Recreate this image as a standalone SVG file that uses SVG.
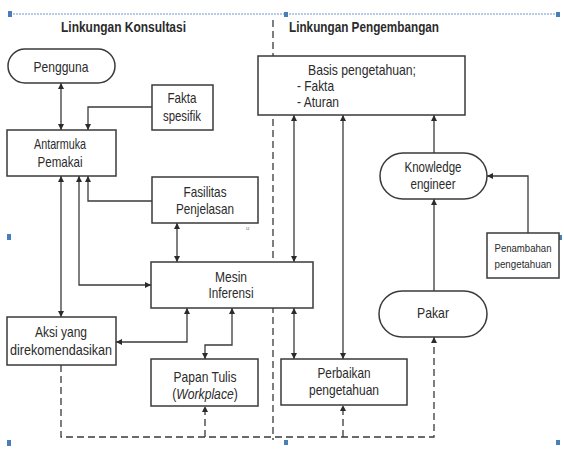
<svg xmlns="http://www.w3.org/2000/svg" width="564" height="449" viewBox="0 0 564 449">
  <style>
    .box { fill: #ffffff; stroke: #3a3a3a; stroke-width: 1.5; }
    .lbl { font-family: "Liberation Sans Narrow", "Liberation Sans", Arial, sans-serif; font-size: 14.5px; fill: #2b2b2b; text-anchor: middle; }
    .lbl-l { font-family: "Liberation Sans Narrow", "Liberation Sans", Arial, sans-serif; font-size: 14.5px; fill: #2b2b2b; }
    .small { font-family: "Liberation Sans Narrow", "Liberation Sans", Arial, sans-serif; font-size: 11px; fill: #2b2b2b; text-anchor: middle; }
    .title { font-family: "Liberation Sans Narrow", "Liberation Sans", Arial, sans-serif; font-size: 14.5px; font-weight: bold; fill: #2b2b2b; }
    .wire { fill: none; stroke: #3a3a3a; stroke-width: 1.3; }
    .dash { fill: none; stroke: #3a3a3a; stroke-width: 1.3; stroke-dasharray: 7 4; }
    .handle { fill: #4a7ebb; }
  </style>
  <defs>
    <marker id="arrow" viewBox="0 0 10 10" refX="10" refY="5" markerWidth="7" markerHeight="6" markerUnits="userSpaceOnUse" orient="auto-start-reverse">
      <path d="M0,0 L10,5 L0,10 z" fill="#2b2b2b"/>
    </marker>
  </defs>

  <rect width="564" height="449" fill="#ffffff"/>

  <!-- frame of the drawing area -->
  <g id="frame">
    <line x1="10" y1="14" x2="558" y2="14" stroke="#9dbbe0" stroke-width="1.5" stroke-dasharray="2 1"/>
    <rect class="handle" x="8" y="11" width="4" height="6"/>
    <rect class="handle" x="284" y="12" width="4" height="5"/>
    <rect class="handle" x="556" y="12" width="4" height="5"/>
    <rect class="handle" x="7" y="234" width="4" height="6"/>
    <rect class="handle" x="558" y="235" width="4" height="5"/>
    <rect class="handle" x="7" y="440" width="4" height="6"/>
    <rect class="handle" x="284" y="440" width="4" height="5"/>
    <rect class="handle" x="556" y="440" width="4" height="5"/>
    <line class="dash" x1="273" y1="20" x2="273" y2="440"/>
    <text class="title" x="61" y="32" textLength="125" lengthAdjust="spacingAndGlyphs">Linkungan Konsultasi</text>
    <text class="title" x="289" y="32" textLength="150" lengthAdjust="spacingAndGlyphs">Linkungan Pengembangan</text>
  </g>

  <!-- connectors -->
  <g id="connectors">
    <path class="wire" d="M61 83 V130" marker-start="url(#arrow)" marker-end="url(#arrow)"/>
    <path class="wire" d="M152 107 H88 V130" marker-end="url(#arrow)"/>
    <path class="wire" d="M61 176 V317" marker-start="url(#arrow)" marker-end="url(#arrow)"/>
    <path class="wire" d="M79 176 V285 H151" marker-start="url(#arrow)" marker-end="url(#arrow)"/>
    <path class="wire" d="M152 201 H88 V176" marker-end="url(#arrow)"/>
    <path class="wire" d="M177 223 V262" marker-start="url(#arrow)" marker-end="url(#arrow)"/>
    <path class="wire" d="M294 115 V262" marker-start="url(#arrow)" marker-end="url(#arrow)"/>
    <path class="wire" d="M343 115 V359" marker-start="url(#arrow)" marker-end="url(#arrow)"/>
    <path class="wire" d="M434 153 V115" marker-end="url(#arrow)"/>
    <path class="wire" d="M434 291 V199" marker-end="url(#arrow)"/>
    <path class="wire" d="M528 233 V176 H487" marker-end="url(#arrow)"/>
    <path class="wire" d="M187 308 V342 H116" marker-start="url(#arrow)" marker-end="url(#arrow)"/>
    <path class="wire" d="M232 308 V345 H205 V359" marker-start="url(#arrow)" marker-end="url(#arrow)"/>
    <path class="wire" d="M294 308 V359" marker-start="url(#arrow)" marker-end="url(#arrow)"/>
    <path class="dash" d="M61 365 V437 H434 V337" marker-end="url(#arrow)"/>
    <path class="dash" d="M205 437 V406" marker-end="url(#arrow)"/>
    <path class="dash" d="M343 437 V405" marker-end="url(#arrow)"/>
  </g>

  <g id="pengguna">
    <rect class="box" x="8" y="49" width="107" height="34" rx="17"/>
    <text class="lbl" x="61" y="72" textLength="55" lengthAdjust="spacingAndGlyphs">Pengguna</text>
  </g>

  <g id="fakta-spesifik">
    <rect class="box" x="152" y="85" width="61" height="45"/>
    <text class="lbl" x="182" y="103" textLength="29" lengthAdjust="spacingAndGlyphs">Fakta</text>
    <text class="lbl" x="182" y="121" textLength="38" lengthAdjust="spacingAndGlyphs">spesifik</text>
  </g>

  <g id="antarmuka">
    <rect class="box" x="7" y="130" width="109" height="46"/>
    <text class="lbl" x="60" y="149" textLength="52" lengthAdjust="spacingAndGlyphs">Antarmuka</text>
    <text class="lbl" x="60" y="167" textLength="45" lengthAdjust="spacingAndGlyphs">Pemakai</text>
  </g>

  <g id="fasilitas">
    <rect class="box" x="152" y="177" width="106" height="46"/>
    <text class="lbl" x="205" y="197" textLength="43" lengthAdjust="spacingAndGlyphs">Fasilitas</text>
    <text class="lbl" x="205" y="214" textLength="58" lengthAdjust="spacingAndGlyphs">Penjelasan</text>
    <text x="246" y="230" font-family="Liberation Sans, sans-serif" font-size="6" fill="#777">u</text>
  </g>

  <g id="mesin">
    <rect class="box" x="151" y="262" width="162" height="46"/>
    <text class="lbl" x="231" y="282" textLength="32" lengthAdjust="spacingAndGlyphs">Mesin</text>
    <text class="lbl" x="231" y="298" textLength="45" lengthAdjust="spacingAndGlyphs">Inferensi</text>
  </g>

  <g id="aksi">
    <rect class="box" x="7" y="317" width="109" height="48"/>
    <text class="lbl" x="61" y="337" textLength="52" lengthAdjust="spacingAndGlyphs">Aksi yang</text>
    <text class="lbl" x="61" y="355" textLength="102" lengthAdjust="spacingAndGlyphs">direkomendasikan</text>
  </g>

  <g id="papan-tulis">
    <rect class="box" x="151" y="359" width="107" height="47"/>
    <text class="lbl" x="205" y="382" textLength="63" lengthAdjust="spacingAndGlyphs">Papan Tulis</text>
    <text class="lbl" transform="translate(205 399) scale(0.84 1)">(<tspan font-style="italic">Workplace</tspan>)</text>
  </g>

  <g id="basis">
    <rect class="box" x="258" y="56" width="207" height="59"/>
    <text class="lbl-l" x="308" y="75" textLength="108" lengthAdjust="spacingAndGlyphs">Basis pengetahuan;</text>
    <text class="lbl-l" x="297" y="91" textLength="37" lengthAdjust="spacingAndGlyphs">- Fakta</text>
    <text class="lbl-l" x="297" y="107" textLength="42" lengthAdjust="spacingAndGlyphs">- Aturan</text>
  </g>

  <g id="knowledge-engineer">
    <rect class="box" x="380" y="153" width="107" height="46" rx="23"/>
    <text class="lbl" x="433" y="172" textLength="57" lengthAdjust="spacingAndGlyphs">Knowledge</text>
    <text class="lbl" x="433" y="189" textLength="45" lengthAdjust="spacingAndGlyphs">engineer</text>
  </g>

  <g id="penambahan">
    <rect class="box" x="487" y="233" width="72" height="45"/>
    <text class="small" x="523" y="252" textLength="57" lengthAdjust="spacingAndGlyphs">Penambahan</text>
    <text class="small" x="523" y="268" textLength="57" lengthAdjust="spacingAndGlyphs">pengetahuan</text>
  </g>

  <g id="pakar">
    <rect class="box" x="379" y="291" width="108" height="46" rx="23"/>
    <text class="lbl" x="433" y="318" textLength="32" lengthAdjust="spacingAndGlyphs">Pakar</text>
  </g>

  <g id="perbaikan">
    <rect class="box" x="281" y="359" width="126" height="46"/>
    <text class="lbl" x="344" y="378" textLength="53" lengthAdjust="spacingAndGlyphs">Perbaikan</text>
    <text class="lbl" x="344" y="395" textLength="70" lengthAdjust="spacingAndGlyphs">pengetahuan</text>
  </g>
</svg>
